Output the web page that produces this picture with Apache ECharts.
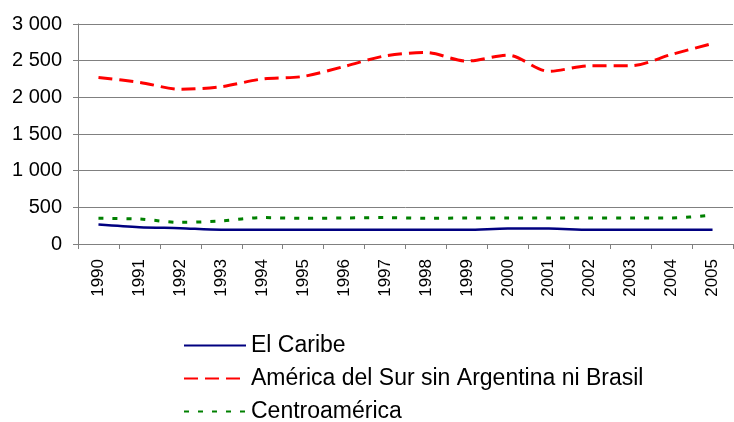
<!DOCTYPE html>
<html><head><meta charset="utf-8">
<script src="https://cdn.jsdelivr.net/npm/echarts@6/dist/echarts.min.js"></script>
<style>html,body{margin:0;padding:0;background:#fff}#c{width:734px;height:422px}</style>
</head><body><div id="c"></div>
<script>
const years = ['1990','1991','1992','1993','1994','1995','1996','1997','1998','1999','2000','2001','2002','2003','2004','2005'];
const caribe = [265,230,215,195,195,195,195,195,195,195,210,210,195,195,195,195];
const sudamerica = [2270,2205,2110,2145,2250,2285,2420,2565,2610,2495,2575,2355,2430,2430,2585,2735];
const centro = [350,340,295,315,360,350,355,360,350,355,355,355,355,355,355,395];
const yTicks = [0,500,1000,1500,2000,2500,3000];

const chart = echarts.init(document.getElementById('c'));
const font = 'Liberation Sans, Arial, sans-serif';
chart.setOption({
  animation:false,
  grid:{left:78,right:1,top:24,bottom:178,containLabel:false},
  xAxis:{type:'category',data:years,boundaryGap:true,
    axisLine:{lineStyle:{color:'#808080',width:1}},
    axisTick:{show:true,length:5,alignWithLabel:false,lineStyle:{color:'#808080'}},
    axisLabel:{rotate:90,color:'#000',fontFamily:font,fontSize:17,margin:15,interval:0}},
  yAxis:{type:'value',min:yTicks[0],max:yTicks[yTicks.length-1],interval:500,
    axisLine:{show:true,lineStyle:{color:'#808080'}},
    axisTick:{show:true,length:5,lineStyle:{color:'#808080'}},
    splitLine:{lineStyle:{color:'#808080',width:1}},
    axisLabel:{color:'#000',fontFamily:font,fontSize:20,margin:16,
      formatter:v=>String(v).replace(/\B(?=(\d{3})+(?!\d))/g,' ')}},
  legend:{orient:'vertical',left:183,top:334,height:120,padding:0,itemWidth:62,itemHeight:14,itemGap:10,
    itemStyle:{opacity:0},
    textStyle:{fontFamily:font,fontSize:23,lineHeight:23,color:'#000'},
    data:['El Caribe','América del Sur sin Argentina ni Brasil','Centroamérica']},
  series:[
    {name:'El Caribe',type:'line',data:caribe,symbol:'none',smooth:0.3,
      lineStyle:{color:'#000080',width:2.5},itemStyle:{color:'#000080'}},
    {name:'América del Sur sin Argentina ni Brasil',type:'line',data:sudamerica,symbol:'none',smooth:0.3,
      lineStyle:{color:'#ff0000',width:3,type:[14,7]},itemStyle:{color:'#ff0000'}},
    {name:'Centroamérica',type:'line',data:centro,symbol:'none',smooth:0.3,
      lineStyle:{color:'#008000',width:3,type:[5,9]},itemStyle:{color:'#008000'}}
  ]
});
</script></body></html>
